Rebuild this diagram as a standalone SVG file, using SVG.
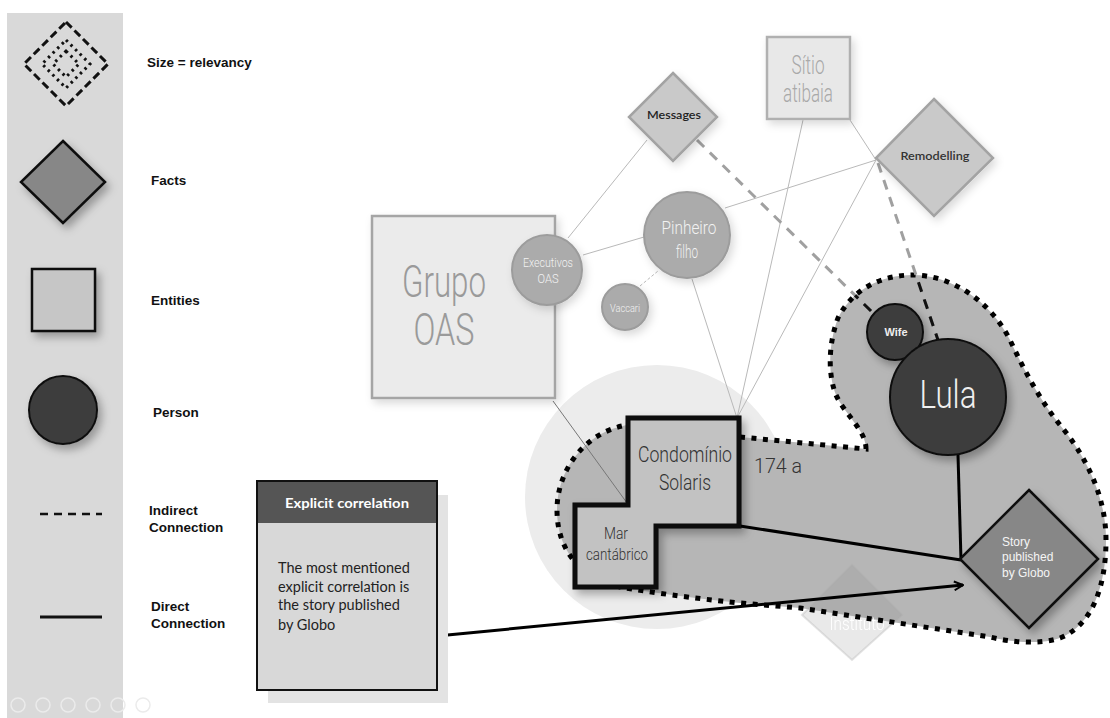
<svg xmlns="http://www.w3.org/2000/svg" width="1110" height="718" viewBox="0 0 1110 718">
<style>
.leg{font-family:"Liberation Sans",Arial,sans-serif;font-weight:bold;font-size:13.5px;fill:#111}
.cond{font-family:Roboto,"Liberation Sans",sans-serif;font-weight:300}
.cal{font-family:Lato,"Open Sans",sans-serif}
.ar{font-family:"Liberation Sans",Arial,sans-serif}
.thin{stroke:#b9b9b9;stroke-width:1;fill:none}
.dsh{stroke:#a0a0a0;stroke-width:3;stroke-dasharray:10 8;fill:none}
.dshk{stroke:#111;stroke-width:3;stroke-dasharray:10 8;fill:none}
.thick{stroke:#000;stroke-width:3;fill:none}
.ico{fill:none;stroke:#ebebeb;stroke-width:1.5}
</style>
<defs>
<filter id="sh" x="-30%" y="-30%" width="160%" height="160%">
<feDropShadow dx="4" dy="5" stdDeviation="4" flood-color="#000" flood-opacity="0.3"/>
</filter>
<filter id="shl" x="-30%" y="-30%" width="160%" height="160%">
<feDropShadow dx="3" dy="4" stdDeviation="4" flood-color="#000" flood-opacity="0.15"/>
</filter>
<marker id="arr" viewBox="0 0 10 10" refX="9" refY="5" markerWidth="11" markerHeight="11" markerUnits="userSpaceOnUse" orient="auto">
<path d="M1,1 L9,5 L1,9" fill="none" stroke="#000" stroke-width="1.8"/>
</marker>
<path id="blob" d="M 740,437 L 866,449 C 866,430 845,415 836,395 C 828,375 828,345 838,318 C 852,290 880,275 913,275 C 950,275 990,300 1010,340 C 1025,372 1040,400 1060,425 C 1085,455 1106,495 1106,540 C 1106,585 1093,625 1060,638 C 1040,645 1010,642 990,637 L 800,608 L 740,603 C 690,598 650,592 620,587 C 580,578 557,550 557,510 C 557,470 585,432 627,425 Z"/>
<clipPath id="blobclip"><use href="#blob"/></clipPath>
</defs>

<rect width="1110" height="718" fill="#ffffff"/>

<g id="legend">
<rect x="7" y="13" width="116" height="705" fill="#d9d9d9"/>
<g id="leg-size">
<polygon points="66,22 108,64 66,106 24,64" fill="none" stroke="#111" stroke-width="3" stroke-dasharray="8 4"/>
<polygon points="66,40 90,64 66,88 42,64" fill="none" stroke="#111" stroke-width="3" stroke-dasharray="2.5 4"/>
<polygon points="66,51 79,64 66,77 53,64" fill="none" stroke="#111" stroke-width="3" stroke-dasharray="2.5 4"/>
<text class="leg" x="147" y="67">Size = relevancy</text>
</g>
<g id="leg-facts">
<polygon points="63,141 105,182 63,223 21,182" fill="#878787" stroke="#111" stroke-width="2.5" filter="url(#sh)"/>
<text class="leg" x="151" y="185">Facts</text>
</g>
<g id="leg-entities">
<rect x="32" y="269" width="63" height="62" fill="#c6c6c6" stroke="#111" stroke-width="2.5" filter="url(#sh)"/>
<text class="leg" x="151" y="305">Entities</text>
</g>
<g id="leg-person">
<circle cx="63" cy="410" r="34" fill="#3d3d3d" stroke="#111" stroke-width="2" filter="url(#sh)"/>
<text class="leg" x="153" y="417">Person</text>
</g>
<g id="leg-indirect">
<line x1="40" y1="514" x2="102" y2="514" stroke="#111" stroke-width="2.5" stroke-dasharray="8 6"/>
<text class="leg" x="149" y="515">Indirect</text>
<text class="leg" x="149" y="532">Connection</text>
</g>
<g id="leg-direct">
<line x1="40" y1="617" x2="102" y2="617" stroke="#111" stroke-width="3"/>
<text class="leg" x="151" y="611">Direct</text>
<text class="leg" x="151" y="628">Connection</text>
</g>
<g id="toolbar">
<circle class="ico" cx="18" cy="705" r="7"/>
<circle class="ico" cx="43" cy="705" r="7"/>
<circle class="ico" cx="68" cy="705" r="7"/>
<circle class="ico" cx="93" cy="705" r="7"/>
<circle class="ico" cx="118" cy="705" r="7"/>
<circle class="ico" cx="143" cy="705" r="7"/>
</g>
</g>

<g id="halo">
<circle cx="657" cy="497" r="132" fill="#ececec"/>
</g>

<g id="group-region">
<use href="#blob" fill="#b6b6b6"/>
</g>

<g id="instituto" opacity="0.9">
<polygon points="852,565 902,615 852,660 802,615" fill="#888" fill-opacity="0.2" stroke="#aaa" stroke-opacity="0.35" stroke-width="2"/>
<text class="cond" x="857" y="630" font-size="19" fill="#ffffff" text-anchor="middle" textLength="55" lengthAdjust="spacingAndGlyphs">Instituto</text>
</g>

<g id="region-border">
<use href="#blob" fill="none" stroke="#000" stroke-width="5" stroke-dasharray="5 6.5"/>
</g>

<g id="connectors">
<line class="thin" x1="647" y1="140" x2="568" y2="238"/>
<line class="thin" x1="583" y1="255" x2="644" y2="237"/>
<line class="thin" x1="725" y1="208" x2="876" y2="160"/>
<line class="thin" x1="640" y1="286" x2="658" y2="271" stroke-dasharray="3 2"/>
<line class="thin" x1="692" y1="279" x2="737" y2="418"/>
<line class="thin" x1="803" y1="120" x2="737" y2="418"/>
<line class="thin" x1="876" y1="160" x2="737" y2="418"/>
<line class="thin" x1="850" y1="120" x2="876" y2="160"/>
<line x1="553" y1="401" x2="627" y2="503" stroke="#777" stroke-width="1"/>
<line class="dsh" x1="697" y1="140" x2="873" y2="313"/>
<line class="dsh" x1="878" y1="163" x2="938" y2="340"/>
<g clip-path="url(#blobclip)">
<line class="dshk" x1="697" y1="140" x2="873" y2="313"/>
<line class="dshk" x1="878" y1="163" x2="938" y2="340"/>
</g>
<line class="thick" x1="740" y1="526" x2="961" y2="560"/>
<line class="thick" x1="958" y1="455" x2="961" y2="560"/>
<line class="thick" x1="437" y1="636" x2="963" y2="585" stroke-width="2.5" marker-end="url(#arr)"/>
</g>

<g id="grupo-oas">
<rect x="372" y="216" width="183" height="182" fill="#ebebeb" stroke="#a5a5a5" stroke-width="2.5" filter="url(#shl)"/>
<text class="cond" x="444" y="297" font-size="44" fill="#9a9a9a" text-anchor="middle" textLength="84" lengthAdjust="spacingAndGlyphs">Grupo</text>
<text class="cond" x="444" y="345" font-size="44" fill="#9a9a9a" text-anchor="middle" textLength="61" lengthAdjust="spacingAndGlyphs">OAS</text>
</g>

<g id="executivos-oas">
<circle cx="547" cy="270" r="35" fill="#ababab" stroke="#9c9c9c" stroke-width="2" filter="url(#shl)"/>
<text class="cond" x="548" y="267" font-size="12" fill="#f2f2f2" text-anchor="middle" textLength="50" lengthAdjust="spacingAndGlyphs">Executivos</text>
<text class="cond" x="548" y="283" font-size="12" fill="#f2f2f2" text-anchor="middle" textLength="21" lengthAdjust="spacingAndGlyphs">OAS</text>
</g>

<g id="pinheiro-filho">
<circle cx="687" cy="235" r="43" fill="#ababab" stroke="#9c9c9c" stroke-width="2" filter="url(#shl)"/>
<text class="cond" x="689" y="234" font-size="19" fill="#f2f2f2" text-anchor="middle" textLength="55" lengthAdjust="spacingAndGlyphs">Pinheiro</text>
<text class="cond" x="687" y="258" font-size="19" fill="#f2f2f2" text-anchor="middle" textLength="22" lengthAdjust="spacingAndGlyphs">filho</text>
</g>

<g id="vaccari">
<circle cx="625" cy="307" r="23" fill="#ababab" stroke="#9c9c9c" stroke-width="2" filter="url(#shl)"/>
<text class="cond" x="625" y="312" font-size="11" fill="#f2f2f2" text-anchor="middle" textLength="30" lengthAdjust="spacingAndGlyphs">Vaccari</text>
</g>

<g id="messages">
<polygon points="673,73 717,117 673,161 629,117" fill="#c9c9c9" stroke="#a3a3a3" stroke-width="2.5" filter="url(#shl)"/>
<text class="cal" x="674" y="119" font-size="12" font-weight="600" fill="#222" text-anchor="middle" textLength="54" lengthAdjust="spacingAndGlyphs">Messages</text>
</g>

<g id="sitio-atibaia">
<rect x="767" y="37" width="83" height="82" fill="#e8e8e8" stroke="#b0b0b0" stroke-width="2.5" filter="url(#shl)"/>
<text class="cond" x="808" y="74" font-size="25" fill="#a9a9a9" text-anchor="middle" textLength="33" lengthAdjust="spacingAndGlyphs">Sítio</text>
<text class="cond" x="808" y="102" font-size="25" fill="#a9a9a9" text-anchor="middle" textLength="50" lengthAdjust="spacingAndGlyphs">atibaia</text>
</g>

<g id="remodelling">
<polygon points="934,99 993,158 934,216 876,158" fill="#c9c9c9" stroke="#a3a3a3" stroke-width="2.5" filter="url(#shl)"/>
<text class="cal" x="935" y="160" font-size="12" font-weight="600" fill="#333" text-anchor="middle" textLength="69" lengthAdjust="spacingAndGlyphs">Remodelling</text>
</g>

<g id="condominio-solaris">
<path d="M 628,418 L 739,418 L 739,526 L 656,526 L 656,587 L 575,587 L 575,505 L 628,505 Z" fill="#c2c2c2" stroke="#0a0a0a" stroke-width="5" stroke-linejoin="miter" filter="url(#sh)"/>
<text class="cond" x="685" y="462" font-size="22" fill="#333" text-anchor="middle" textLength="94" lengthAdjust="spacingAndGlyphs">Condomínio</text>
<text class="cond" x="685" y="490" font-size="22" fill="#333" text-anchor="middle" textLength="52" lengthAdjust="spacingAndGlyphs">Solaris</text>
</g>

<g id="mar-cantabrico">
<text class="cond" x="616" y="539" font-size="16" fill="#333" text-anchor="middle" textLength="24" lengthAdjust="spacingAndGlyphs">Mar</text>
<text class="cond" x="617" y="560" font-size="16" fill="#333" text-anchor="middle" textLength="62" lengthAdjust="spacingAndGlyphs">cantábrico</text>
</g>

<g id="label-174">
<text class="cond" x="754" y="473" font-size="21" fill="#333" textLength="48" lengthAdjust="spacingAndGlyphs">174 a</text>
</g>

<g id="wife">
<circle cx="895" cy="332" r="28" fill="#3d3d3d" stroke="#111" stroke-width="2" filter="url(#sh)"/>
<text class="ar" x="896" y="336" font-size="11" font-weight="bold" fill="#eee" text-anchor="middle">Wife</text>
</g>

<g id="lula">
<circle cx="948" cy="397" r="58" fill="#3d3d3d" stroke="#111" stroke-width="2" filter="url(#sh)"/>
<text class="cond" x="948" y="408" font-size="39" fill="#f0f0f0" text-anchor="middle" textLength="57" lengthAdjust="spacingAndGlyphs">Lula</text>
</g>

<g id="story-globo">
<polygon points="1029,490 1098,559 1029,628 960,559" fill="#878787" stroke="#111" stroke-width="2.5" filter="url(#sh)"/>
<text class="ar" x="1002" y="546" font-size="12" fill="#f5f5f5">Story</text>
<text class="ar" x="1002" y="561" font-size="12" fill="#f5f5f5">published</text>
<text class="ar" x="1002" y="577" font-size="12" fill="#f5f5f5">by Globo</text>
</g>

<g id="explicit-correlation">
<rect x="268" y="495" width="180" height="208" fill="#e3e3e3"/>
<rect x="257" y="481" width="180" height="209" fill="#d8d8d8" stroke="#111" stroke-width="2"/>
<rect x="258" y="482" width="178" height="41" fill="#555555"/>
<text class="cal" x="347" y="508" font-size="14" font-weight="bold" fill="#ffffff" text-anchor="middle" textLength="124" lengthAdjust="spacingAndGlyphs">Explicit correlation</text>
<text class="cal" x="278" y="573" font-size="14.5" fill="#222">The most mentioned</text>
<text class="cal" x="278" y="592" font-size="14.5" fill="#222">explicit correlation is</text>
<text class="cal" x="278" y="610" font-size="14.5" fill="#222">the story published</text>
<text class="cal" x="278" y="630" font-size="14.5" fill="#222">by Globo</text>
</g>
</svg>
